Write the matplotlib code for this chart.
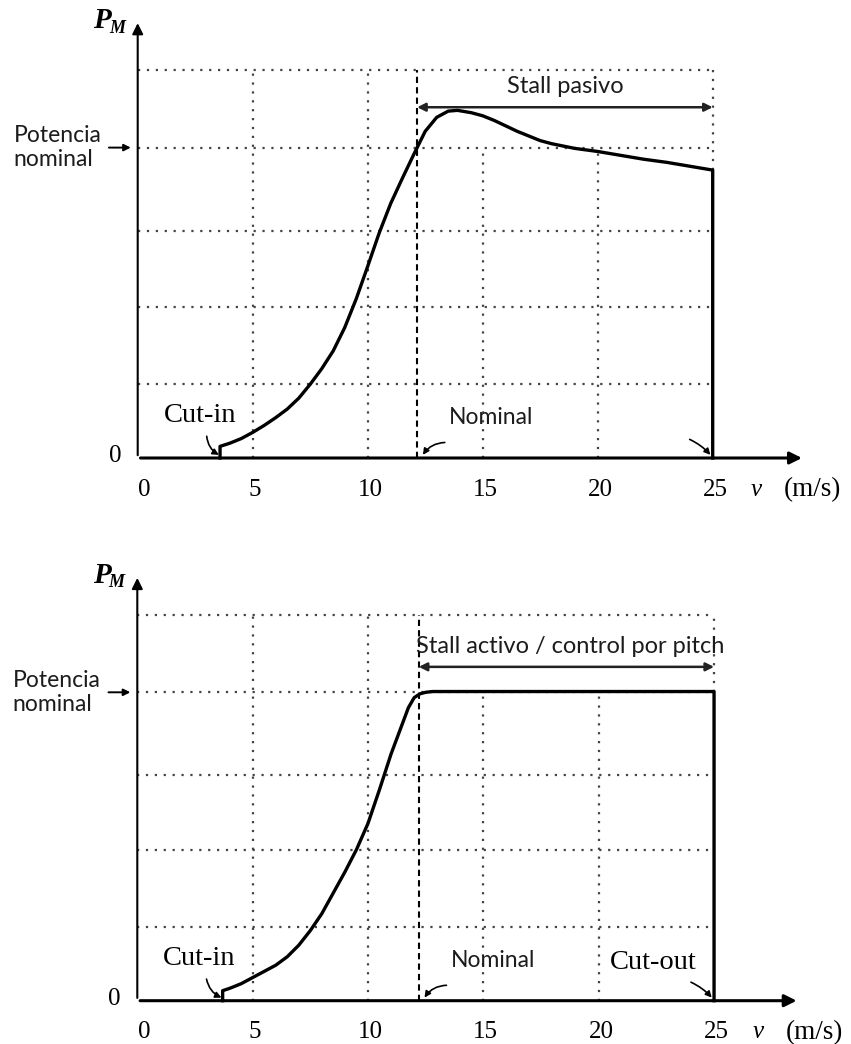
import matplotlib.pyplot as plt

# curve data (v in m/s, P in grid units, nominal = 4)
top_v = [3.58, 3.58, 4.0, 4.5, 5.0, 5.5, 6.0, 6.5, 7.0, 7.5, 8.0, 8.5, 9.0, 9.5, 10.0,
         10.5, 11.0, 11.5, 12.0, 12.5, 13.0, 13.5, 13.9, 14.5, 15.0, 15.5, 16.0, 16.5,
         17.0, 17.5, 18.0, 18.5, 19.0, 20.0, 21.0, 22.0, 23.0, 24.0, 25.0, 25.0]
top_p = [0.0, 0.15, 0.19, 0.25, 0.33, 0.42, 0.52, 0.63, 0.77, 0.95, 1.15, 1.38, 1.68, 2.05, 2.47,
         2.90, 3.28, 3.60, 3.91, 4.21, 4.39, 4.47, 4.48, 4.45, 4.41, 4.35, 4.28, 4.21,
         4.15, 4.09, 4.05, 4.02, 3.99, 3.95, 3.90, 3.85, 3.81, 3.76, 3.71, 0.0]

bot_v = [3.7, 3.7, 4.0, 4.5, 5.0, 5.5, 6.0, 6.5, 7.0, 7.5, 8.0, 8.5, 9.0, 9.5, 10.0,
         10.5, 11.0, 11.5, 11.75, 12.0, 12.25, 12.5, 12.8, 13.0, 25.0, 25.0]
bot_p = [0.0, 0.13, 0.16, 0.22, 0.30, 0.38, 0.46, 0.57, 0.72, 0.91, 1.13, 1.40, 1.67, 1.96, 2.30,
         2.74, 3.20, 3.60, 3.80, 3.93, 3.98, 4.0, 4.01, 4.01, 4.01, 0.0]

grid_p = [0.96, 1.95, 2.93, 4.0, 5.0]
grid_v_full = [5, 10]
grid_v_low = [15, 20]
tick_vals = [0, 5, 10, 15, 20, 25]
tick_labels = ['0', '5', '10', '15', '20', '25']
v_nom_top = 12.15
v_nom_bot = 12.2
v_cut_out = 25

SANS = 'Lato'
SERIF = 'Liberation Serif'
INK = '#1c1c1c'
DOT = (0, (1, 3))


def draw_panel(ax, v, p, v_nom, band_label, band_y, band_text_xy, band_ha, cutout_label,
               yarrow_top, xarrow_end):
    # dotted grid
    for g in grid_p:
        ax.plot([0, 25], [g, g], color='#444444', lw=1.6, ls=DOT)
    for g in grid_v_full:
        ax.plot([g, g], [0, 5], color='#444444', lw=1.6, ls=DOT)
    for g in grid_v_low:
        ax.plot([g, g], [0, 4.0], color='#444444', lw=1.6, ls=DOT)
    ax.plot([25, 25], [p[-2], 5], color='#444444', lw=1.6, ls=DOT)

    # nominal speed dashed line
    ax.plot([v_nom, v_nom], [0, 5], color='k', lw=1.5, ls=(0, (3, 2)))

    # axes with arrows
    ax.annotate('', xy=(0, yarrow_top), xytext=(0, 0),
                arrowprops=dict(arrowstyle='-|>', lw=1.5, color='k', mutation_scale=16))
    ax.annotate('', xy=(xarrow_end, 0), xytext=(0, 0),
                arrowprops=dict(arrowstyle='-|>', lw=2.2, color='k', mutation_scale=18))

    # power curve
    ax.plot(v, p, color='k', lw=2.4, solid_joinstyle='round')

    # regulation band
    ax.annotate('', xy=(25, band_y), xytext=(v_nom, band_y),
                arrowprops=dict(arrowstyle='<|-|>', lw=1.8, color='#222222', mutation_scale=12,
                                shrinkA=0, shrinkB=0))
    ax.text(band_text_xy[0], band_text_xy[1], band_label, ha=band_ha, va='center',
            fontsize=17, family=SANS, color=INK)

    # labels on the left
    ax.text(-1.55, yarrow_top + 0.0, 'P', ha='center', va='center', fontsize=21,
            family=SERIF, weight='bold', style='italic')
    ax.text(-0.9, yarrow_top - 0.1, 'M', ha='center', va='center', fontsize=13,
            family=SERIF, weight='bold', style='italic')
    ax.text(-5.4, 4.0, 'Potencia\nnominal', ha='left', va='center', fontsize=16.5,
            family=SANS, color=INK, linespacing=1.2)
    ax.annotate('', xy=(-0.3, 4.0), xytext=(-1.25, 4.0),
                arrowprops=dict(arrowstyle='-|>', lw=1.4, color='k', mutation_scale=10,
                                shrinkA=0, shrinkB=0))
    ax.text(-0.98, 0.02, '0', ha='center', va='center', fontsize=18, family=SERIF)

    # tick labels and unit
    for t, lab in zip(tick_vals, tick_labels):
        ax.text(t + (0.3 if t == 0 else 0.1), -0.41, lab, ha='center', va='center',
                fontsize=18, family=SERIF)
    ax.text(26.9, -0.41, 'v', ha='center', va='center', fontsize=18, family=SERIF,
            style='italic')
    ax.text(29.35, -0.41, '(m/s)', ha='center', va='center', fontsize=19.5, family=SERIF)

    # point annotations
    ax.text(2.7, 0.55, 'Cut-in', ha='center', va='center', fontsize=20.5, family=SERIF)
    ax.annotate('', xy=(v[0] - 0.05, 0.04), xytext=(3.0, 0.28),
                arrowprops=dict(arrowstyle='-|>', lw=1.2, color='k', mutation_scale=9,
                                connectionstyle='arc3,rad=0.25', shrinkA=0, shrinkB=0))
    ax.text(v_nom + 3.2, 0.52, 'Nominal', ha='center', va='center', fontsize=16.5,
            family=SANS, color=INK)
    ax.annotate('', xy=(v_nom + 0.25, 0.04), xytext=(v_nom + 1.2, 0.2),
                arrowprops=dict(arrowstyle='-|>', lw=1.2, color='k', mutation_scale=9,
                                connectionstyle='arc3,rad=0.25', shrinkA=0, shrinkB=0))
    if cutout_label:
        ax.text(22.35, 0.5, cutout_label, ha='center', va='center', fontsize=20.5, family=SERIF)
    ax.annotate('', xy=(v_cut_out - 0.1, 0.04), xytext=(v_cut_out - 1.0, 0.24),
                arrowprops=dict(arrowstyle='-|>', lw=1.2, color='k', mutation_scale=9,
                                connectionstyle='arc3,rad=-0.1', shrinkA=0, shrinkB=0))


fig = plt.figure(figsize=(8.51, 10.44), dpi=100)
ax1 = fig.add_axes([0, 0.5, 1, 0.5])
ax2 = fig.add_axes([0, 0, 1, 0.5])

# top: passive stall
ax1.set_xlim(-137.7 / 23.0, (851 - 137.7) / 23.0)
ax1.set_ylim((458 - 522) / 77.6, 458 / 77.6)
draw_panel(ax1, top_v, top_p, v_nom_top, 'Stall pasivo', 4.52, (18.6, 4.79), 'center', None,
           5.64, 29.0)

# bottom: active stall / pitch control
ax2.set_xlim(-137.3 / 23.07, (851 - 137.3) / 23.07)
ax2.set_ylim((1000.7 - 1044) / 77.1, (1000.7 - 522) / 77.1)
draw_panel(ax2, bot_v, bot_p, v_nom_bot, 'Stall activo / control por pitch', 4.33,
           (12.1, 4.6), 'left', 'Cut-out', 5.52, 28.7)

for ax in (ax1, ax2):
    ax.axis('off')

fig.savefig('out.png', dpi=100)
